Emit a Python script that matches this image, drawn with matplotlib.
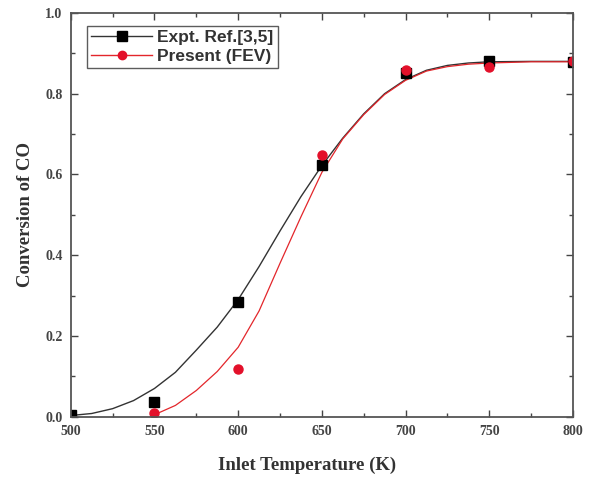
import matplotlib
matplotlib.use("Agg")
import matplotlib.pyplot as plt
from matplotlib.ticker import MultipleLocator

# measured points
temp = [500, 550, 600, 650, 700, 750, 800]
expt = [0.005, 0.036, 0.283, 0.623, 0.852, 0.880, 0.878]
temp_fev = [550, 600, 650, 700, 750, 800]
fev = [0.010, 0.117, 0.648, 0.858, 0.866, 0.880]

# fitted curves
t_expt_fit = [500, 512.5, 525, 537.5, 550, 562.5, 575, 587.5, 600, 612.5, 625,
              637.5, 650, 662.5, 675, 687.5, 700, 712.5, 725, 737.5, 750, 775, 800]
expt_fit = [0.003, 0.008, 0.020, 0.040, 0.070, 0.110, 0.165, 0.222, 0.290, 0.372, 0.460,
            0.545, 0.622, 0.690, 0.750, 0.800, 0.835, 0.858, 0.870, 0.876, 0.879, 0.880, 0.880]
t_fev_fit = [550, 562.5, 575, 587.5, 600, 612.5, 625, 637.5, 650, 662.5, 675,
             687.5, 700, 712.5, 725, 737.5, 750, 775, 800]
fev_fit = [0.005, 0.028, 0.065, 0.112, 0.172, 0.262, 0.380, 0.495, 0.605, 0.688, 0.748,
           0.798, 0.833, 0.856, 0.867, 0.873, 0.876, 0.879, 0.879]

fig = plt.figure(figsize=(5.9, 4.79), dpi=100)
ax = fig.add_axes([0.12, 0.13, 0.851, 0.843])

ax.plot(t_expt_fit, expt_fit, color="#333333", lw=1.0)
ax.plot(t_fev_fit, fev_fit, color="#e3262b", lw=0.9)
ax.plot([], [], color="#333333", lw=1.0, marker="s", ms=7, mfc="black", mec="black",
        label="Expt. Ref.[3,5]")
ax.plot([], [], color="#e3262b", lw=1.0, marker="o", ms=6, mfc="#e3102a", mec="#e3102a",
        label="Present (FEV)")
ax.plot(temp, expt, ls="none", marker="s", ms=7, color="black")
ax.plot(temp_fev, fev, ls="none", marker="o", ms=6.5, color="#e3102a")

ax.set_xlim(500, 800)
ax.set_ylim(0, 1.0)
ax.xaxis.set_major_locator(MultipleLocator(50))
ax.xaxis.set_minor_locator(MultipleLocator(25))
ax.yaxis.set_major_locator(MultipleLocator(0.2))
ax.yaxis.set_minor_locator(MultipleLocator(0.1))
ax.tick_params(which="both", direction="in", top=True, right=True, color="#444444")
ax.tick_params(which="major", length=5, width=1, pad=6)
ax.tick_params(which="minor", length=3, width=1)
ax.set_yticklabels([f"{v:.1f}" for v in ax.get_yticks()])
for lab in ax.get_xticklabels() + ax.get_yticklabels():
    lab.set_fontfamily("Liberation Serif")
    lab.set_fontweight("bold")
    lab.set_fontsize(10)
    lab.set_color("#444444")
for sp in ax.spines.values():
    sp.set_color("#555555")
    sp.set_linewidth(1.3)

ax.set_xlabel("Inlet Temperature (K)", fontfamily="Liberation Serif", fontweight="bold",
              fontsize=13.5, color="#333333")
ax.xaxis.set_label_coords(0.47, -0.1)
ax.set_ylabel("Conversion of CO", fontfamily="Liberation Serif", fontweight="bold",
              fontsize=13.5, color="#333333", labelpad=8)

leg = ax.legend(loc="upper left", bbox_to_anchor=(0.015, 0.99), frameon=True, fancybox=False,
                edgecolor="#333333", handlelength=3.5, handletextpad=0.3, borderpad=0.25,
                labelspacing=0.2,
                prop={"family": "Liberation Sans", "weight": "bold", "size": 12.5})
leg.get_frame().set_linewidth(1.0)
for t in leg.get_texts():
    t.set_color("#333333")

fig.savefig("out.png", dpi=100)
